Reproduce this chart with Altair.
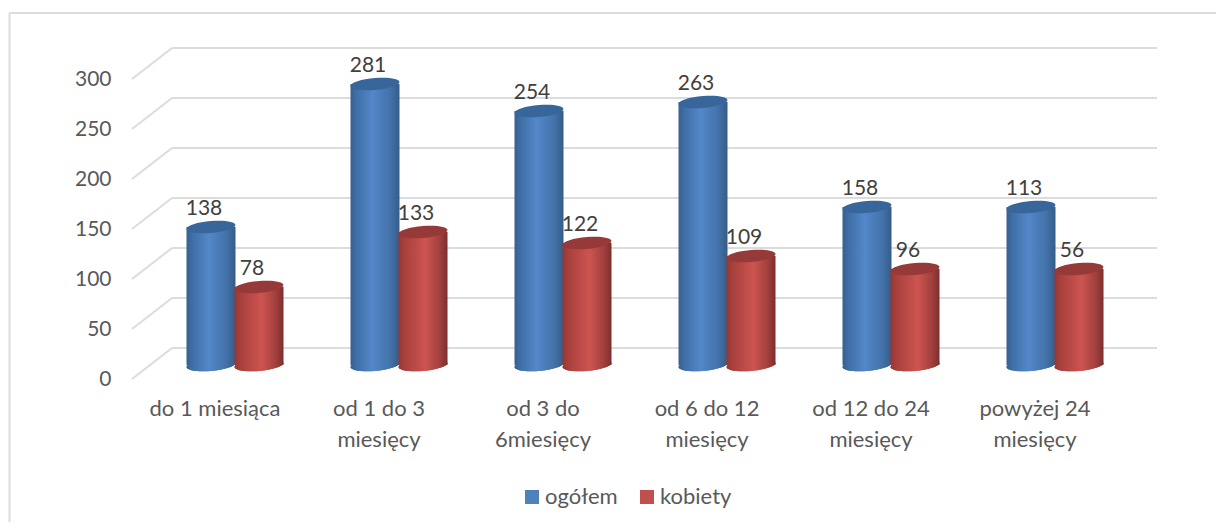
import altair as alt
import pandas as pd

categories = ["do 1 miesiąca", "od 1 do 3|miesięcy", "od 3 do|6miesięcy",
              "od 6 do 12|miesięcy", "od 12 do 24|miesięcy", "powyżej 24|miesięcy"]
series_names = ["ogółem", "kobiety"]
# drawn heights and printed labels (the picture's last pair differs between the two)
heights_total = [138, 281, 254, 263, 158, 158]
heights_women = [78, 133, 122, 109, 96, 96]
labels_total = [138, 281, 254, 263, 158, 113]
labels_women = [78, 133, 122, 109, 96, 56]
ticks = [0, 50, 100, 150, 200, 250, 300]

FONT = "Lato"
GRID = "#dcdcdc"
FLAT = ["#4f81bd", "#c0504d"]


def grad(stops):
    return alt.Gradient(gradient="linear", x1=0, y1=0, x2=1, y2=0,
                        stops=[alt.GradientStop(offset=o, color=c) for o, c in stops])


BLUE = grad([(0, "#36618f"), (0.12, "#3f6fa6"), (0.45, "#5387c9"), (0.8, "#4473ab"), (1, "#355c88")])
RED = grad([(0, "#953735"), (0.12, "#a8403d"), (0.55, "#cd5450"), (0.85, "#a03f3c"), (1, "#7b2f2d")])
TOP_COL = ["#38669a", "#953a38"]


def ellipse(t=0.08, h=0.245, k=0.5523):
    f = lambda v: f"{v:.4f}"
    return (f"M-1 {f(t)} C-1 {f(t-k*h)} {f(-k)} {f(-h+t*k)} 0 {f(-h)} "
            f"C{f(k)} {f(-h-t*k)} 1 {f(-k*h-t)} 1 {f(-t)} "
            f"C1 {f(k*h-t)} {f(k)} {f(h-t*k)} 0 {f(h)} "
            f"C{f(-k)} {f(h+t*k)} -1 {f(k*h+t)} -1 {f(t)} Z")


SHAPE = ellipse()
SIZE = 49 ** 2

df_total = pd.DataFrame({"cat": categories, "series": series_names[0], "h": heights_total,
                         "label": labels_total, "base": 0})
df_women = pd.DataFrame({"cat": categories, "series": series_names[1], "h": heights_women,
                         "label": labels_women, "base": 0})
df_all = pd.concat([df_total, df_women])
df_ticks = pd.DataFrame({"tick": ticks})
df_one = pd.DataFrame({"a": [0]})

x_enc = alt.X("cat:N", sort=categories, scale=alt.Scale(paddingInner=0.4146, paddingOuter=0.2073),
              axis=alt.Axis(title=None, domain=False, ticks=False, grid=False, labelAngle=0,
                            labelFont=FONT, labelFontSize=22, labelColor="#595959",
                            labelPadding=33, labelLimit=300, labelLineHeight=31, labelBaseline="top",
                            labelOffset=-20, labelExpr="split(datum.label, '|')"))
y_axis = alt.Axis(title=None, domain=False, ticks=False, grid=False, values=ticks,
                  labelFont=FONT, labelFontSize=21, labelColor="#595959",
                  labelPadding=42, labelOffset=14)
y_scale = alt.Scale(domain=[0, 320], nice=False)


def yq(field):
    return alt.Y(f"{field}:Q", scale=y_scale, axis=y_axis)


off_enc = alt.XOffset("series:N", sort=series_names,
                      scale=alt.Scale(domain=series_names, paddingInner=0, paddingOuter=0))

frame_top = alt.Chart(df_one).mark_rule(color=GRID, strokeWidth=2).encode(
    x=alt.value(-143.5), x2=alt.value(1063), y=alt.value(-32))
frame_left = alt.Chart(df_one).mark_rule(color=GRID, strokeWidth=2).encode(
    x=alt.value(-143.5), y=alt.value(-32), y2=alt.value(477))

grid_back = alt.Chart(df_ticks).mark_rule(color=GRID, strokeWidth=2, yOffset=-17).encode(
    x=alt.value(19), x2=alt.value(1004), y=yq("tick"))
grid_side = alt.Chart(df_ticks).mark_rule(color=GRID, strokeWidth=2, yOffset=14, y2Offset=-17).encode(
    x=alt.value(-21), x2=alt.value(19), y=yq("tick"), y2=alt.Y2("tick:Q"))

legend_layer = alt.Chart(df_all).mark_point(shape=SHAPE, size=SIZE, filled=True, opacity=1, strokeWidth=0).encode(
    x=x_enc, xOffset=off_enc, y=yq("base"),
    color=alt.Color("series:N", scale=alt.Scale(domain=series_names, range=FLAT),
                    legend=alt.Legend(title=None, orient="none", legendX=368, legendY=441,
                                      direction="horizontal", symbolType="square", symbolSize=196,
                                      symbolStrokeWidth=0, labelFont=FONT, labelFontSize=22,
                                      labelColor="#595959", columnPadding=18, labelOffset=2)))


def cylinder(df, body, top):
    base = alt.Chart(df).mark_point(shape=SHAPE, size=SIZE, filled=True, fill=body, opacity=1, strokeWidth=0).encode(
        x=x_enc, xOffset=off_enc, y=yq("base"))
    bar = alt.Chart(df).mark_bar(size=49, color=body).encode(
        x=x_enc, xOffset=off_enc, y=yq("h"))
    cap = alt.Chart(df).mark_point(shape=SHAPE, size=SIZE, filled=True, fill=top, opacity=1, strokeWidth=0).encode(
        x=x_enc, xOffset=off_enc, y=yq("h"))
    return [base, bar, cap]


text = alt.Chart(df_all).mark_text(font=FONT, fontSize=21, color="#404040", dx=-7, dy=-18.5, baseline="middle").encode(
    x=x_enc, xOffset=off_enc, y=yq("h"), text="label:Q")

chart = alt.layer(
    frame_top, frame_left, grid_back, grid_side, legend_layer,
    *cylinder(df_total, BLUE, TOP_COL[0]),
    *cylinder(df_women, RED, TOP_COL[1]),
    text,
).properties(
    width=984, height=320,
    autosize=alt.AutoSizeParams(type="none"),
    padding={"left": 145, "top": 37, "right": 79, "bottom": 157},
    background="white",
).configure_view(stroke=None)

chart.save("out.html", embed_options={"renderer": "svg", "actions": False})
